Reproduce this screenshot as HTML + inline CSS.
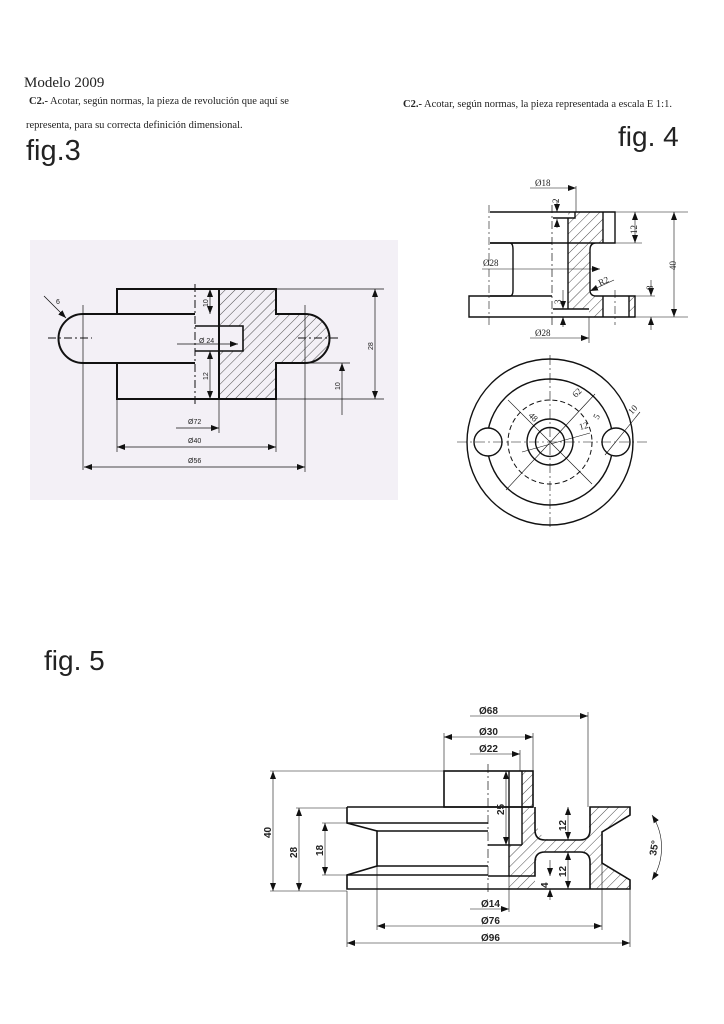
<!DOCTYPE html>
<html><head><meta charset="utf-8"><style>
html,body{margin:0;padding:0;background:#fff;width:724px;height:1024px;overflow:hidden}
svg{display:block}
.t{font-family:"Liberation Serif",serif;fill:#222}
.s{font-family:"Liberation Sans",sans-serif;fill:#222}
.k{stroke:#111;fill:none}
</style></head><body>
<svg width="724" height="1024" viewBox="0 0 724 1024" xmlns="http://www.w3.org/2000/svg">
<defs>
<pattern id="h" width="7" height="7" patternUnits="userSpaceOnUse" patternTransform="rotate(45)">
<line x1="0" y1="0" x2="0" y2="7" stroke="#222" stroke-width="0.8"/></pattern>
<marker id="a" markerWidth="8" markerHeight="6" refX="8" refY="3" orient="auto-start-reverse" markerUnits="userSpaceOnUse"><path d="M0,0 L8,3 L0,6z" fill="#111"/></marker>
</defs>

<!-- Headers -->
<text x="24" y="87" class="t" font-size="15">Modelo 2009</text>
<text x="29" y="104" class="t" font-size="10.5"><tspan font-weight="bold">C2.-</tspan> Acotar, según normas, la pieza de revolución que aquí se</text>
<text x="26" y="128" class="t" font-size="10.5">representa, para su correcta definición dimensional.</text>
<text x="26" y="160" class="s" font-size="29">fig.3</text>
<text x="403" y="107" class="t" font-size="10.5"><tspan font-weight="bold">C2.-</tspan> Acotar, según normas, la pieza representada a escala E 1:1.</text>
<text x="618" y="146" class="s" font-size="28">fig. 4</text>
<text x="44" y="670" class="s" font-size="28">fig. 5</text>

<!-- FIG 3 -->
<rect x="30" y="240" width="368" height="260" fill="#f3f0f6"/>
<g class="k">
<path d="M219,289 H276 V314 H305 A24.5,24.5 0 0 1 305,363 H276 V399 H219 Z" fill="url(#h)" stroke="none"/>
<rect x="195" y="326" width="48" height="25" fill="#f3f0f6" stroke="none"/>
<path d="M117,314 V289 H276 V314 H305 A24.5,24.5 0 0 1 305,363 H276 V399 H117 V363" stroke-width="2"/>
<path d="M195,314 H83 A24.5,24.5 0 0 0 83,363 H195" stroke-width="2"/>
<line x1="219" y1="289" x2="219" y2="399" stroke-width="2"/>
<path d="M195,326 H243 V351 H195" stroke-width="1.6"/>
<line x1="195" y1="284" x2="195" y2="405" stroke-width="1" stroke-dasharray="8,3,2,3"/>
<line x1="48" y1="338" x2="92" y2="338" stroke-width="1" stroke-dasharray="8,3,2,3"/>
<line x1="298" y1="338" x2="340" y2="338" stroke-width="1" stroke-dasharray="8,3,2,3"/>
<line x1="83" y1="305" x2="83" y2="470" stroke-width="0.7"/>
<line x1="305" y1="305" x2="305" y2="472" stroke-width="0.7"/>
<line x1="117" y1="399" x2="117" y2="452" stroke-width="0.7"/>
<line x1="276" y1="399" x2="276" y2="452" stroke-width="0.7"/>
<line x1="219" y1="399" x2="219" y2="433" stroke-width="0.7"/>
<line x1="44" y1="296" x2="66" y2="318" stroke-width="0.8" marker-end="url(#a)"/>
<line x1="210" y1="289" x2="210" y2="314" stroke-width="0.7" marker-start="url(#a)" marker-end="url(#a)"/>
<line x1="210" y1="351" x2="210" y2="399" stroke-width="0.7" marker-start="url(#a)" marker-end="url(#a)"/>
<line x1="177" y1="344" x2="238" y2="344" stroke-width="0.7" marker-end="url(#a)"/>
<line x1="276" y1="289" x2="384" y2="289" stroke-width="0.7"/>
<line x1="276" y1="399" x2="384" y2="399" stroke-width="0.7"/>
<line x1="307" y1="363" x2="350" y2="363" stroke-width="0.7"/>
<line x1="375" y1="289" x2="375" y2="399" stroke-width="0.7" marker-start="url(#a)" marker-end="url(#a)"/>
<line x1="342" y1="363" x2="342" y2="415" stroke-width="0.7" marker-start="url(#a)"/>
<line x1="176" y1="428" x2="219" y2="428" stroke-width="0.7" marker-end="url(#a)"/>
<line x1="117" y1="447" x2="276" y2="447" stroke-width="0.7" marker-start="url(#a)" marker-end="url(#a)"/>
<line x1="84" y1="467" x2="305" y2="467" stroke-width="0.7" marker-start="url(#a)" marker-end="url(#a)"/>
</g>
<g class="s" font-size="7">
<text x="56" y="304">6</text>
<text x="199" y="343">Ø 24</text>
<text x="188" y="424">Ø72</text>
<text x="188" y="443">Ø40</text>
<text x="188" y="463">Ø56</text>
<text transform="translate(208,307) rotate(-90)">10</text>
<text transform="translate(208,380) rotate(-90)">12</text>
<text transform="translate(373,350) rotate(-90)">28</text>
<text transform="translate(340,390) rotate(-90)">10</text>
</g>

<!-- FIG 4 top -->
<g class="k">
<path d="M568,212 H603 V243 H596 Q590,243 590,250 V290 Q590,296 596,296 H603 V317 H589 V309 H568 Z" fill="url(#h)" stroke="none"/>
<rect x="629" y="296" width="6" height="21" fill="url(#h)"/>
<path d="M490,212 H615 V243 H603 V212 M603,243 H596 Q590,243 590,250 V290 Q590,296 596,296 H635 V317 H469 V296 H510 Q513,296 513,290 V250 Q513,243 510,243 H490 Z" stroke-width="1.4"/>
<line x1="490" y1="243" x2="552" y2="243" stroke-width="1.4"/>
<line x1="490" y1="296" x2="552" y2="296" stroke-width="1.4"/>
<line x1="568" y1="218" x2="568" y2="309" stroke-width="1.4"/>
<path d="M553,218 H575 V212 M553,309 H589" stroke-width="1.4"/>
<line x1="603" y1="296" x2="603" y2="317" stroke-width="1.4"/>
<line x1="629" y1="296" x2="629" y2="317" stroke-width="1.4"/>
<line x1="552" y1="205" x2="552" y2="325" stroke-width="0.7" stroke-dasharray="8,3,2,3"/>
<line x1="489" y1="205" x2="489" y2="325" stroke-width="0.6" stroke-dasharray="8,3,2,3"/>
<line x1="615" y1="290" x2="615" y2="325" stroke-width="0.6" stroke-dasharray="8,3,2,3"/>
<line x1="530" y1="188" x2="576" y2="188" stroke-width="0.6" marker-end="url(#a)"/>
<line x1="576" y1="186" x2="576" y2="212" stroke-width="0.6"/>
<line x1="557" y1="200" x2="557" y2="212" stroke-width="0.6" marker-end="url(#a)"/>
<line x1="557" y1="219" x2="557" y2="228" stroke-width="0.6" marker-start="url(#a)"/>
<line x1="482" y1="269" x2="600" y2="269" stroke-width="0.6" marker-end="url(#a)"/>
<line x1="590" y1="291" x2="614" y2="280" stroke-width="0.6" marker-start="url(#a)"/>
<line x1="563" y1="290" x2="563" y2="309" stroke-width="0.6" marker-end="url(#a)"/>
<line x1="563" y1="317" x2="563" y2="327" stroke-width="0.6" marker-start="url(#a)"/>
<line x1="589" y1="317" x2="589" y2="343" stroke-width="0.6"/>
<line x1="530" y1="338" x2="589" y2="338" stroke-width="0.6" marker-end="url(#a)"/>
<line x1="615" y1="212" x2="688" y2="212" stroke-width="0.6"/>
<line x1="615" y1="243" x2="642" y2="243" stroke-width="0.6"/>
<line x1="635" y1="317" x2="688" y2="317" stroke-width="0.6"/>
<line x1="635" y1="296" x2="655" y2="296" stroke-width="0.6"/>
<line x1="635" y1="212" x2="635" y2="243" stroke-width="0.6" marker-start="url(#a)" marker-end="url(#a)"/>
<line x1="674" y1="212" x2="674" y2="317" stroke-width="0.6" marker-start="url(#a)" marker-end="url(#a)"/>
<line x1="651" y1="280" x2="651" y2="296" stroke-width="0.6" marker-end="url(#a)"/>
<line x1="651" y1="317" x2="651" y2="330" stroke-width="0.6" marker-start="url(#a)"/>
</g>
<g class="t" font-size="9">
<text x="535" y="186">Ø18</text>
<text x="483" y="266">Ø28</text>
<text x="535" y="336">Ø28</text>
<text transform="translate(600,286) rotate(-25)">R2</text>
<text transform="translate(559,203) rotate(-90)">2</text>
<text transform="translate(561,304) rotate(-90)">3</text>
<text transform="translate(637,234) rotate(-90)">12</text>
<text transform="translate(676,270) rotate(-90)">40</text>
<text transform="translate(653,290) rotate(-90)">8</text>
</g>

<!-- FIG 4 circles -->
<g class="k">
<circle cx="550" cy="442" r="83" stroke-width="1.4"/>
<circle cx="550" cy="442" r="63" stroke-width="1.4"/>
<circle cx="550" cy="442" r="42" stroke-width="1" stroke-dasharray="5,3"/>
<circle cx="550" cy="442" r="23" stroke-width="1.4"/>
<circle cx="550" cy="442" r="14.5" stroke-width="1.4"/>
<circle cx="488" cy="442" r="14" stroke-width="1.4" fill="#fff"/>
<circle cx="616" cy="442" r="14" stroke-width="1.4" fill="#fff"/>
<line x1="457" y1="442" x2="650" y2="442" stroke-width="0.6" stroke-dasharray="10,3,2,3"/>
<line x1="550" y1="355" x2="550" y2="530" stroke-width="0.6" stroke-dasharray="10,3,2,3"/>
<line x1="508" y1="400" x2="592" y2="484" stroke-width="0.6"/>
<line x1="595" y1="394" x2="506" y2="490" stroke-width="0.6"/>
<line x1="522" y1="452" x2="590" y2="433" stroke-width="0.6"/>
<line x1="605" y1="455" x2="640" y2="412" stroke-width="0.6"/>
</g>
<g class="t" font-size="9">
<text transform="translate(576,398) rotate(-47)">62</text>
<text transform="translate(528,416) rotate(45)">48</text>
<text transform="translate(580,430) rotate(-15)">12</text>
<text transform="translate(598,420) rotate(-60)">5</text>
<text transform="translate(632,415) rotate(-48)">10</text>
</g>

<!-- FIG 5 -->
<g class="k">
<path d="M522,771 H533 V807 H535 V815 Q537,838 550,840 H588 Q590,815 590,807 H630 V815 L602,832 V863 L630,880 V889 H590 V860 Q588,852 580,852 H545 Q535,854 535,870 V889 H509 V845 H522 Z" fill="url(#h)" stroke="none"/>
<path d="M533,807 V875 M533,807 H547" stroke-width="0"/>
<rect x="444" y="771" width="89" height="36" stroke-width="1.6"/>
<path d="M347,807 H533 M347,807 V823 L377,831 V866 L347,875 V889 H630 V880 L602,863 V832 L630,815 V807 H590 V830 Q590,840 580,840 H545 Q535,840 535,830 V807" stroke-width="1.6"/>
<path d="M590,889 V862 Q590,852 580,852 H545 Q535,852 535,862 V876 H509" stroke-width="1.6"/>
<line x1="522" y1="771" x2="522" y2="845" stroke-width="1.4"/>
<line x1="509" y1="771" x2="509" y2="845" stroke-width="1.4"/>
<line x1="488" y1="845" x2="522" y2="845" stroke-width="1.4"/>
<line x1="509" y1="845" x2="509" y2="876" stroke-width="1.4"/>
<line x1="347" y1="823" x2="488" y2="823" stroke-width="1.4"/>
<line x1="377" y1="831" x2="488" y2="831" stroke-width="1.4"/>
<line x1="377" y1="866" x2="488" y2="866" stroke-width="1.4"/>
<line x1="347" y1="875" x2="488" y2="875" stroke-width="1.4"/>
<line x1="488" y1="876" x2="509" y2="876" stroke-width="1.4"/>
<line x1="488" y1="764" x2="488" y2="895" stroke-width="0.7" stroke-dasharray="9,3,2,3"/>
<!-- ext lines -->
<line x1="270" y1="771" x2="444" y2="771" stroke-width="0.6"/>
<line x1="270" y1="891" x2="347" y2="891" stroke-width="0.6"/>
<line x1="296" y1="808" x2="347" y2="808" stroke-width="0.6"/>
<line x1="322" y1="823" x2="347" y2="823" stroke-width="0.6"/>
<line x1="322" y1="875" x2="347" y2="875" stroke-width="0.6"/>
<line x1="273" y1="771" x2="273" y2="891" stroke-width="0.6" marker-start="url(#a)" marker-end="url(#a)"/>
<line x1="299" y1="808" x2="299" y2="891" stroke-width="0.6" marker-start="url(#a)" marker-end="url(#a)"/>
<line x1="325" y1="823" x2="325" y2="875" stroke-width="0.6" marker-start="url(#a)" marker-end="url(#a)"/>
<line x1="506" y1="771" x2="506" y2="845" stroke-width="0.6" marker-start="url(#a)" marker-end="url(#a)"/>
<line x1="568" y1="807" x2="568" y2="840" stroke-width="0.6" marker-start="url(#a)" marker-end="url(#a)"/>
<line x1="568" y1="852" x2="568" y2="889" stroke-width="0.6" marker-start="url(#a)" marker-end="url(#a)"/>
<line x1="550" y1="860" x2="550" y2="876" stroke-width="0.6" marker-end="url(#a)"/>
<line x1="550" y1="889" x2="550" y2="900" stroke-width="0.6" marker-start="url(#a)"/>
<path d="M652,815 A60,60 0 0 1 652,880" stroke-width="0.6" marker-start="url(#a)" marker-end="url(#a)"/>
<line x1="444" y1="733" x2="444" y2="771" stroke-width="0.6"/>
<line x1="533" y1="733" x2="533" y2="771" stroke-width="0.6"/>
<line x1="520" y1="750" x2="520" y2="771" stroke-width="0.6"/>
<line x1="588" y1="712" x2="588" y2="807" stroke-width="0.6"/>
<line x1="444" y1="737" x2="533" y2="737" stroke-width="0.6" marker-start="url(#a)" marker-end="url(#a)"/>
<line x1="470" y1="754" x2="520" y2="754" stroke-width="0.6" marker-end="url(#a)"/>
<line x1="470" y1="716" x2="588" y2="716" stroke-width="0.6" marker-end="url(#a)"/>
<line x1="509" y1="876" x2="509" y2="912" stroke-width="0.6"/>
<line x1="377" y1="866" x2="377" y2="930" stroke-width="0.6"/>
<line x1="602" y1="863" x2="602" y2="930" stroke-width="0.6"/>
<line x1="347" y1="891" x2="347" y2="947" stroke-width="0.6"/>
<line x1="630" y1="889" x2="630" y2="947" stroke-width="0.6"/>
<line x1="470" y1="909" x2="509" y2="909" stroke-width="0.6" marker-end="url(#a)"/>
<line x1="377" y1="926" x2="602" y2="926" stroke-width="0.6" marker-start="url(#a)" marker-end="url(#a)"/>
<line x1="347" y1="943" x2="630" y2="943" stroke-width="0.6" marker-start="url(#a)" marker-end="url(#a)"/>
</g>
<g class="s" font-size="10" font-weight="bold">
<text x="479" y="714">Ø68</text>
<text x="479" y="735">Ø30</text>
<text x="479" y="752">Ø22</text>
<text x="481" y="907">Ø14</text>
<text x="481" y="924">Ø76</text>
<text x="481" y="941">Ø96</text>
<text transform="translate(271,838) rotate(-90)">40</text>
<text transform="translate(297,858) rotate(-90)">28</text>
<text transform="translate(323,856) rotate(-90)">18</text>
<text transform="translate(504,815) rotate(-90)">25</text>
<text transform="translate(566,831) rotate(-90)">12</text>
<text transform="translate(566,877) rotate(-90)">12</text>
<text transform="translate(548,888) rotate(-90)">4</text>
<text transform="translate(656,856) rotate(-80)">35°</text>
</g>
</svg>
</body></html>
